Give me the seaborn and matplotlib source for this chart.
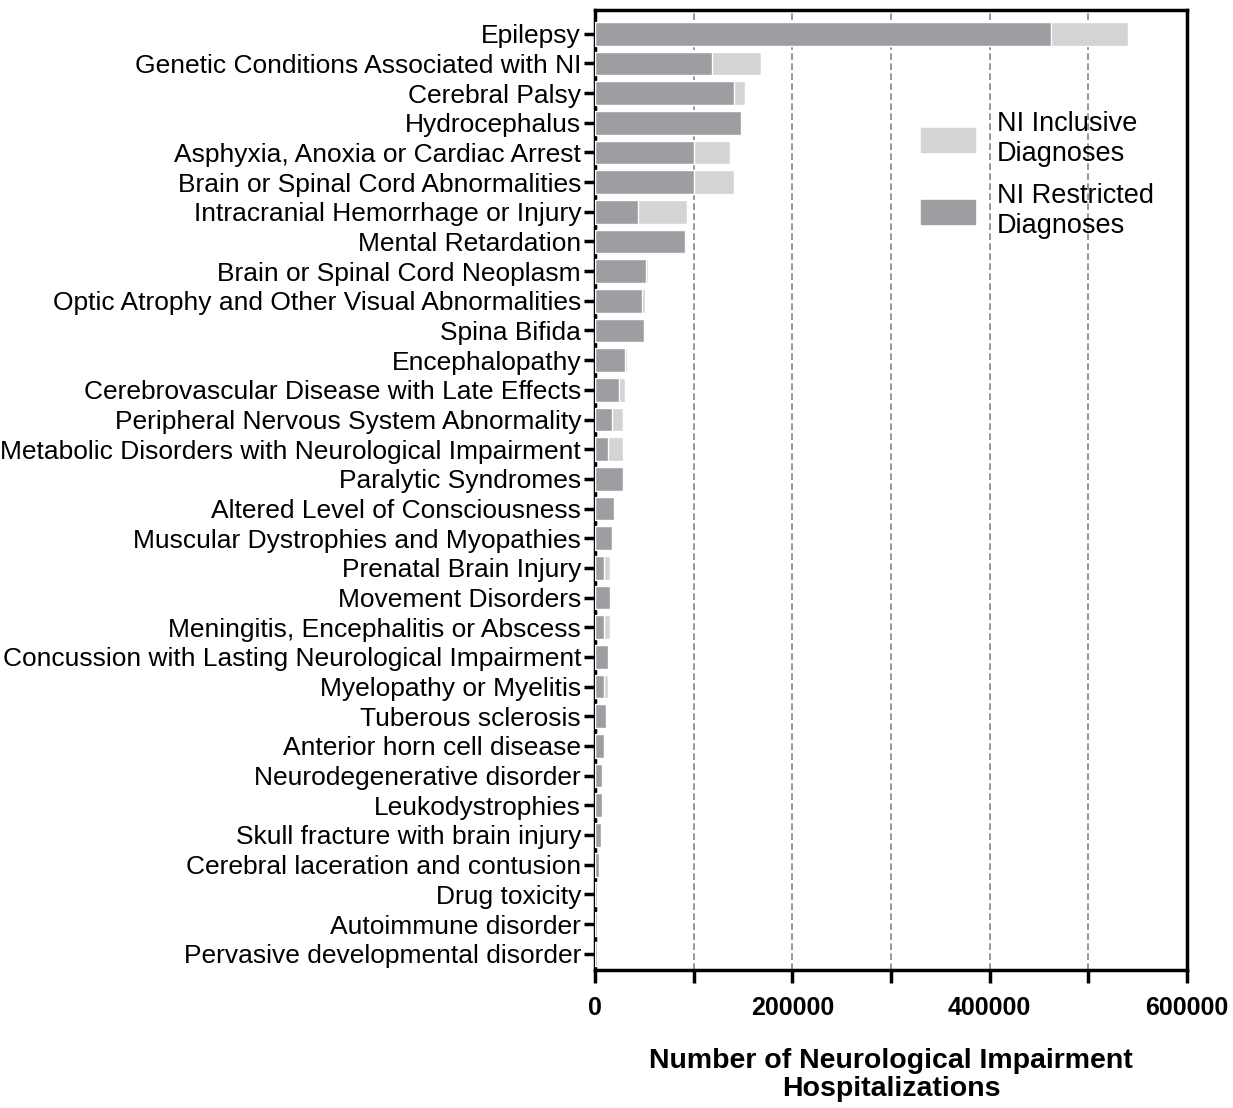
import matplotlib
matplotlib.use("Agg")
import matplotlib.pyplot as plt
import matplotlib.patches as mpatches
import seaborn as sns
import pandas as pd

categories = [
    "Epilepsy",
    "Genetic Conditions Associated with NI",
    "Cerebral Palsy",
    "Hydrocephalus",
    "Asphyxia, Anoxia or Cardiac Arrest",
    "Brain or Spinal Cord Abnormalities",
    "Intracranial Hemorrhage or Injury",
    "Mental Retardation",
    "Brain or Spinal Cord Neoplasm",
    "Optic Atrophy and Other Visual Abnormalities",
    "Spina Bifida",
    "Encephalopathy",
    "Cerebrovascular Disease with Late Effects",
    "Peripheral Nervous System Abnormality",
    "Metabolic Disorders with Neurological Impairment",
    "Paralytic Syndromes",
    "Altered Level of Consciousness",
    "Muscular Dystrophies and Myopathies",
    "Prenatal Brain Injury",
    "Movement Disorders",
    "Meningitis, Encephalitis or Abscess",
    "Concussion with Lasting Neurological Impairment",
    "Myelopathy or Myelitis",
    "Tuberous sclerosis",
    "Anterior horn cell disease",
    "Neurodegenerative disorder",
    "Leukodystrophies",
    "Skull fracture with brain injury",
    "Cerebral laceration and contusion",
    "Drug toxicity",
    "Autoimmune disorder",
    "Pervasive developmental disorder",
]

# NI inclusive diagnoses (light bars, total)
inclusive = [
    540000, 168000, 152000, 148000, 137000, 141000, 93000, 91000,
    54000, 51000, 50000, 32000, 30000, 28000, 28000, 28000,
    19600, 17600, 15000, 15000, 15000, 13200, 12800, 10800,
    9100, 6800, 6800, 6800, 4400, 2400, 2000, 2000,
]

# NI restricted diagnoses (dark bars)
restricted = [
    462000, 119000, 141000, 148000, 100000, 100000, 44000, 91000,
    52000, 48000, 50000, 30500, 24000, 17600, 12900, 28000,
    19600, 17600, 8800, 15000, 8800, 13200, 8800, 10800,
    9100, 6800, 6800, 6000, 4400, 2400, 2000, 2000,
]

xticks = [0, 200000, 400000, 600000]
minor_ticks = [100000, 300000, 500000]
gridlines = [100000, 200000, 300000, 400000, 500000]

light = "#d4d4d4"
dark = "#9d9ea2"

df = pd.DataFrame({"category": categories,
                   "inclusive": inclusive,
                   "restricted": restricted})

sns.set_style("white")
plt.rcParams["font.family"] = ["Liberation Sans", "DejaVu Sans"]
plt.rcParams["text.color"] = "black"
plt.rcParams["axes.labelcolor"] = "black"

fig = plt.figure(figsize=(12.33, 11.08), dpi=100)
ax = fig.add_axes([595 / 1233, 1 - 970 / 1108, 592 / 1233, 960 / 1108])

for x in gridlines:
    ax.axvline(x, color="#888888", linestyle=(0, (4, 2)), linewidth=1.2, zorder=0)

sns.barplot(data=df, x="inclusive", y="category", orient="h",
            color=light, saturation=1, width=0.8, ax=ax, zorder=2)
sns.barplot(data=df, x="restricted", y="category", orient="h",
            color=dark, saturation=1, width=0.8, ax=ax, zorder=3)

ax.set_xlim(0, 600000)
ax.set_ylim(len(categories) - 0.45, -0.8)
ax.set_xticks(xticks)
ax.set_xticklabels([str(t) for t in xticks], fontsize=18, fontweight="bold")
ax.set_xticks(minor_ticks, minor=True)
ax.tick_params(axis="y", labelsize=19, length=8, width=2.5, direction="out",
               left=True, pad=2, colors="black")
ax.tick_params(axis="x", which="major", length=9, width=2.5, direction="out",
               bottom=True, pad=10, colors="black")
ax.tick_params(axis="x", which="minor", length=9, width=2.5, direction="out",
               bottom=True, colors="black")
ax.set_ylabel("")
ax.set_xlabel("Number of Neurological Impairment\nHospitalizations",
              fontsize=20.5, fontweight="bold", labelpad=20, linespacing=1.1)

for spine in ax.spines.values():
    spine.set_visible(True)
    spine.set_color("black")
    spine.set_linewidth(2.5)

handles = [mpatches.Patch(color=light, label="NI Inclusive\nDiagnoses"),
           mpatches.Patch(color=dark, label="NI Restricted\nDiagnoses")]
ax.legend(handles=handles, loc="upper left", bbox_to_anchor=(0.51, 0.92),
          frameon=False, fontsize=19.5, handlelength=2.0, handleheight=1.0,
          labelspacing=0.6, handletextpad=0.8)

fig.savefig("out.png", dpi=100)
